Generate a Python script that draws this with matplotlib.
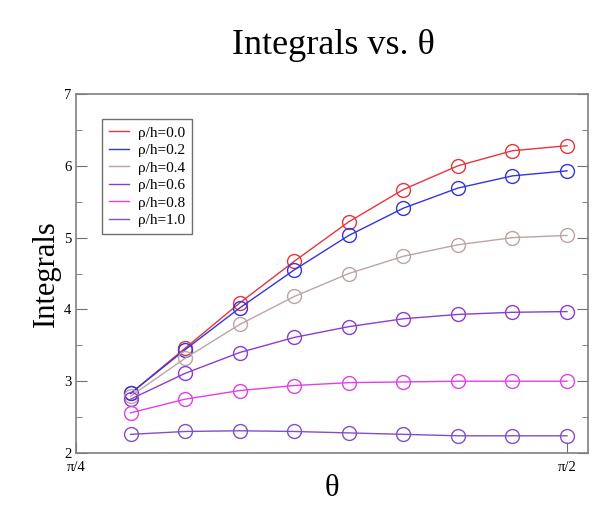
import numpy as np
import matplotlib
matplotlib.use("Agg")
import matplotlib.pyplot as plt
from matplotlib.ticker import MultipleLocator

# theta in degrees, 50..90
theta_deg = [50, 55, 60, 65, 70, 75, 80, 85, 90]

labels = ["ρ/h=0.0", "ρ/h=0.2", "ρ/h=0.4", "ρ/h=0.6", "ρ/h=0.8", "ρ/h=1.0"]
r00 = [2.83, 3.46, 4.09, 4.67, 5.22, 5.67, 6.00, 6.21, 6.28]
r02 = [2.83, 3.44, 4.02, 4.55, 5.03, 5.41, 5.69, 5.86, 5.93]
r04 = [2.79, 3.32, 3.79, 4.18, 4.50, 4.74, 4.90, 5.00, 5.03]
r06 = [2.75, 3.11, 3.40, 3.61, 3.76, 3.87, 3.93, 3.96, 3.97]
r08 = [2.56, 2.75, 2.87, 2.94, 2.98, 2.99, 3.00, 3.00, 3.00]
r10 = [2.26, 2.30, 2.31, 2.30, 2.28, 2.26, 2.24, 2.24, 2.24]
series = [r00, r02, r04, r06, r08, r10]
colors = ["#e8343c", "#3434e0", "#bca4a4", "#8c3cd0", "#e040e8", "#8050c8"]

plt.rcParams['font.family'] = ['Liberation Serif', 'DejaVu Serif']

fig = plt.figure(figsize=(6, 5.2), dpi=100)
ax = fig.add_axes([0.1267, 0.1288, 0.8533, 0.6904])

x = np.radians(theta_deg)
for ys, c, lab in zip(series, colors, labels):
    ax.plot(x, ys, color=c, lw=1.0, marker='o', ms=10, mfc='none',
            mec=c, mew=1.0, label=lab)

ax.set_xlim(np.pi/4, np.pi/4 + (np.pi/4) * 512/491)
ax.set_ylim(2, 7)
ax.set_xticks([np.pi/4, np.pi/2])
ax.set_xticklabels(["π/4", "π/2"])
ax.yaxis.set_major_locator(MultipleLocator(1))
ax.yaxis.set_minor_locator(MultipleLocator(0.5))
ax.tick_params(direction='in', which='both', right=True, labelsize=10.5,
               color='#707070')
ax.tick_params(which='major', length=8)
ax.tick_params(which='minor', length=4)
ax.tick_params(axis='x', pad=6)
for s in ax.spines.values():
    s.set_color('#808080')
    s.set_linewidth(1.2)

ax.set_xlabel("θ", fontsize=22, labelpad=0)
ax.set_ylabel("Integrals", fontsize=22, labelpad=2)
fig.suptitle("Integrals vs. θ", fontsize=26, x=0.555, y=0.913, va='center')

leg = ax.legend(loc='upper left', bbox_to_anchor=(0.051, 0.93), fontsize=11,
                handlelength=1.3, handletextpad=0.6, labelspacing=0.25,
                borderpad=0.45, borderaxespad=0, fancybox=False, framealpha=1,
                edgecolor='#707070')
for h in leg.legend_handles:
    h.set_marker('')
    h.set_linewidth(1.0)

fig.savefig("out.png", dpi=100)
